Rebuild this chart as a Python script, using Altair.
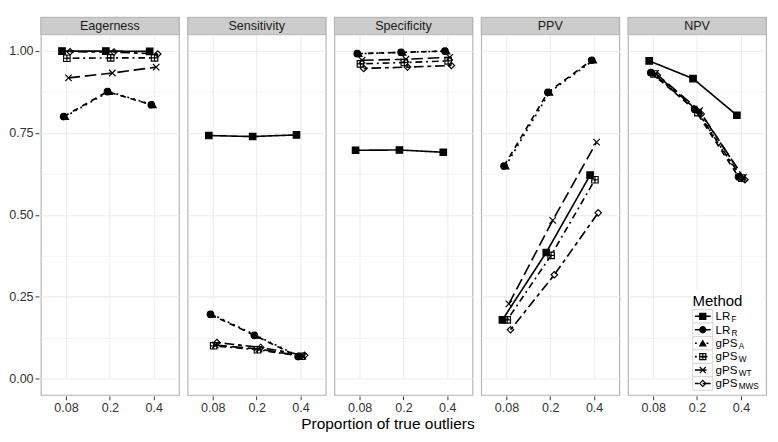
import altair as alt
import pandas as pd

proportions = ["0.08", "0.2", "0.4"]
methods = ["LR_F", "LR_R", "gPS_A", "gPS_W", "gPS_WT", "gPS_MWS"]
metrics = ["Eagerness", "Sensitivity", "Specificity", "PPV", "NPV"]

# values per method (rows follow `methods`), columns follow `proportions`
eagerness = [
    [1.000, 1.000, 0.999],
    [0.800, 0.876, 0.836],
    [0.800, 0.876, 0.836],
    [0.978, 0.979, 0.979],
    [0.918, 0.933, 0.951],
    [0.998, 0.997, 0.991],
]
sensitivity = [
    [0.742, 0.739, 0.744],
    [0.196, 0.132, 0.067],
    [0.196, 0.132, 0.067],
    [0.100, 0.088, 0.068],
    [0.102, 0.090, 0.068],
    [0.110, 0.095, 0.071],
]
specificity = [
    [0.697, 0.698, 0.691],
    [0.992, 0.996, 1.000],
    [0.992, 0.996, 1.000],
    [0.961, 0.965, 0.970],
    [0.972, 0.975, 0.981],
    [0.947, 0.951, 0.956],
]
ppv = [
    [0.179, 0.385, 0.621],
    [0.649, 0.874, 0.972],
    [0.649, 0.874, 0.972],
    [0.179, 0.376, 0.607],
    [0.228, 0.483, 0.722],
    [0.149, 0.317, 0.506],
]
npv = [
    [0.970, 0.916, 0.804],
    [0.934, 0.822, 0.616],
    [0.934, 0.822, 0.616],
    [0.930, 0.812, 0.612],
    [0.932, 0.818, 0.614],
    [0.926, 0.808, 0.607],
]

tables = dict(zip(metrics, [eagerness, sensitivity, specificity, ppv, npv]))
rows = []
for metric in metrics:
    for mi, method in enumerate(methods):
        for pi, prop in enumerate(proportions):
            rows.append({"Metric": metric, "Method": method, "Series": method,
                         "Proportion": prop, "Value": tables[metric][mi][pi]})
df = pd.DataFrame(rows)

shape_range = ["square", "circle", "triangle-up",
               "M-1,-1H1V1H-1Z M0,-1V1 M-1,0H1",
               "M-1,-1L1,1 M-1,1L1,-1",
               "diamond"]
fill_range = ["black", "black", "black", "transparent", "transparent", "transparent"]
dash_range = [[1, 0], [6, 5], [2, 4], [2, 4, 7, 4], [12, 5], [4, 4, 10, 4]]

W = 143
STRIP = 18
H = 373                  # plotting area below the strip
FONT = "Liberation Sans"
DODGE = 0.037            # horizontal dodge between methods, in category units
PX_PER_UNIT = W / 3.15   # pixels per category step

props_js = "[" + ",".join("'%s'" % p for p in proportions) + "]"
methods_js = "[" + ",".join("'%s'" % m for m in methods) + "]"

x_enc = alt.X("xpos:Q", title=None,
              scale=alt.Scale(domain=[-0.575, 2.575], nice=False, zero=False),
              axis=alt.Axis(values=[0, 1, 2], labelExpr=props_js + "[datum.value]",
                            grid=True, gridColor="#ebebeb",
                            labelAngle=0, labelFontSize=13, labelColor="#333333",
                            tickColor="#333333", tickSize=4, domain=False,
                            labelPadding=2, labelFont=FONT))
y_enc = alt.Y("Value:Q", title=None,
              scale=alt.Scale(domain=[-0.05, 1.05], nice=False, zero=False,
                              range=[STRIP + H, STRIP]),
              axis=alt.Axis(values=[0, 0.125, 0.25, 0.375, 0.5, 0.625, 0.75, 0.875, 1.0],
                            labelExpr="datum.value % 0.25 == 0 ? format(datum.value, '.2f') : ''",
                            tickColor={"condition": {"test": "datum.value % 0.25 != 0", "value": "transparent"},
                                       "value": "#333333"},
                            gridWidth={"condition": {"test": "datum.value % 0.25 != 0", "value": 0.6},
                                       "value": 1.1},
                            gridColor="#ebebeb", domain=False, tickSize=4,
                            labelFontSize=13, labelColor="#333333", labelPadding=2,
                            labelFont=FONT))

shape_enc = alt.Shape("Method:N", sort=methods, legend=None,
                      scale=alt.Scale(domain=methods, range=shape_range))
fill_enc = alt.Fill("Method:N", sort=methods, legend=None,
                    scale=alt.Scale(domain=methods, range=fill_range))
dash_enc = alt.StrokeDash("Series:N", sort=methods, legend=None,
                          scale=alt.Scale(domain=methods, range=dash_range))

base = alt.Chart().transform_calculate(
    xpos="indexof(%s, datum.Proportion) + (indexof(%s, datum.Method) - 2.5) * %f"
         % (props_js, methods_js, DODGE)
)

one_row = (alt.datum.Method == methods[0]) & (alt.datum.Proportion == proportions[0])

strip = alt.Chart().transform_filter(one_row).mark_rect(
    fill="#cccccc", stroke="#b3b3b3", strokeWidth=1).encode(
    x=alt.value(0), x2=alt.value(W), y=alt.value(0), y2=alt.value(STRIP))

strip_text = alt.Chart().transform_filter(one_row).mark_text(
    fontSize=13, color="#1a1a1a", font=FONT, baseline="middle").encode(
    text="Metric:N", x=alt.value(W / 2), y=alt.value(STRIP / 2))

lines = base.mark_line(color="black", strokeWidth=1.7).encode(
    x=x_enc, y=y_enc, strokeDash=dash_enc)

points = base.mark_point(filled=True, stroke="black", strokeWidth=1.2,
                         size=45, opacity=1).encode(
    x=x_enc, y=y_enc, shape=shape_enc, fill=fill_enc)

# ---- legend (drawn inside the NPV panel, positioned in data units) ----
ROW0, ROWSTEP, HALF = 0.190, 0.041, 0.0205
BOX0, BOX1 = 0.90, 1.357
KEY0, KEY1, KEYC = 0.95, 1.31, 1.13
LABX = 1.42
LR_W, GPS_W = 16.5 / PX_PER_UNIT, 24.0 / PX_PER_UNIT

leg = alt.Chart().transform_filter(
    (alt.datum.Metric == "NPV") & (alt.datum.Proportion == proportions[0])
).transform_calculate(
    row="indexof(%s, datum.Method)" % methods_js,
    ly="%f - datum.row * %f" % (ROW0, ROWSTEP),
    ly0="%f - datum.row * %f - %f" % (ROW0, ROWSTEP, HALF),
    ly1="%f - datum.row * %f + %f" % (ROW0, ROWSTEP, HALF),
    bx0="%f" % BOX0, bx1="%f" % BOX1,
    kx0="%f" % KEY0, kx1="%f" % KEY1, kxc="%f" % KEYC,
    lbase="split(datum.Method, '_')[0]",
    lsub="split(datum.Method, '_')[1]",
    lbx="%f" % LABX,
    lsx="%f + (split(datum.Method, '_')[0] == 'LR' ? %f : %f)" % (LABX, LR_W, GPS_W),
)

leg_bg = leg.transform_filter(alt.datum.Method == methods[0]).transform_calculate(
    gx0="0.86", gx1="2.52", gy0="-0.045", gy1="0.268", ty="0.237", tx="0.895"
)

leg_bg_rect = leg_bg.mark_rect(fill="white").encode(
    x=alt.X("gx0:Q", title=None), x2="gx1:Q", y=alt.Y("gy0:Q", title=None), y2="gy1:Q")
leg_title = leg_bg.mark_text(text="Method", align="left", baseline="middle",
                             fontSize=15.5, font=FONT, color="black").encode(
    x=alt.X("tx:Q", title=None), y=alt.Y("ty:Q", title=None))
leg_boxes = leg.mark_rect(fill="white", stroke="#d4d4d4", strokeWidth=1).encode(
    x=alt.X("bx0:Q", title=None), x2="bx1:Q", y=alt.Y("ly0:Q", title=None), y2="ly1:Q")
leg_lines = leg.mark_rule(color="black", strokeWidth=1.6).encode(
    x=alt.X("kx0:Q", title=None), x2="kx1:Q", y=alt.Y("ly:Q", title=None),
    strokeDash=dash_enc)
leg_points = leg.mark_point(filled=True, stroke="black", strokeWidth=1.2,
                            size=40, opacity=1).encode(
    x=alt.X("kxc:Q", title=None), y=alt.Y("ly:Q", title=None),
    shape=shape_enc, fill=fill_enc)
leg_text = leg.mark_text(align="left", baseline="middle", fontSize=12,
                         font=FONT, color="black").encode(
    x=alt.X("lbx:Q", title=None), y=alt.Y("ly:Q", title=None), text="lbase:N")
leg_sub = leg.mark_text(align="left", baseline="middle", fontSize=8.5, dy=3,
                        font=FONT, color="black").encode(
    x=alt.X("lsx:Q", title=None), y=alt.Y("ly:Q", title=None), text="lsub:N")

chart = alt.layer(strip, strip_text, lines, points,
                  leg_bg_rect, leg_title, leg_boxes, leg_lines, leg_points,
                  leg_text, leg_sub, data=df).properties(
    width=W, height=STRIP + H
).facet(
    column=alt.Column("Metric:N", sort=metrics, header=None),
    spacing=5,
).properties(
    title=alt.TitleParams("Proportion of true outliers", orient="bottom", anchor="middle",
                          fontSize=16, fontWeight="normal", font=FONT, color="black", offset=2),
    padding={"left": 0, "top": 0, "right": 2, "bottom": 0},
).configure_view(
    stroke="#b3b3b3", strokeWidth=1.2
)

chart.save("out.html", embed_options={"renderer": "svg", "actions": False})
